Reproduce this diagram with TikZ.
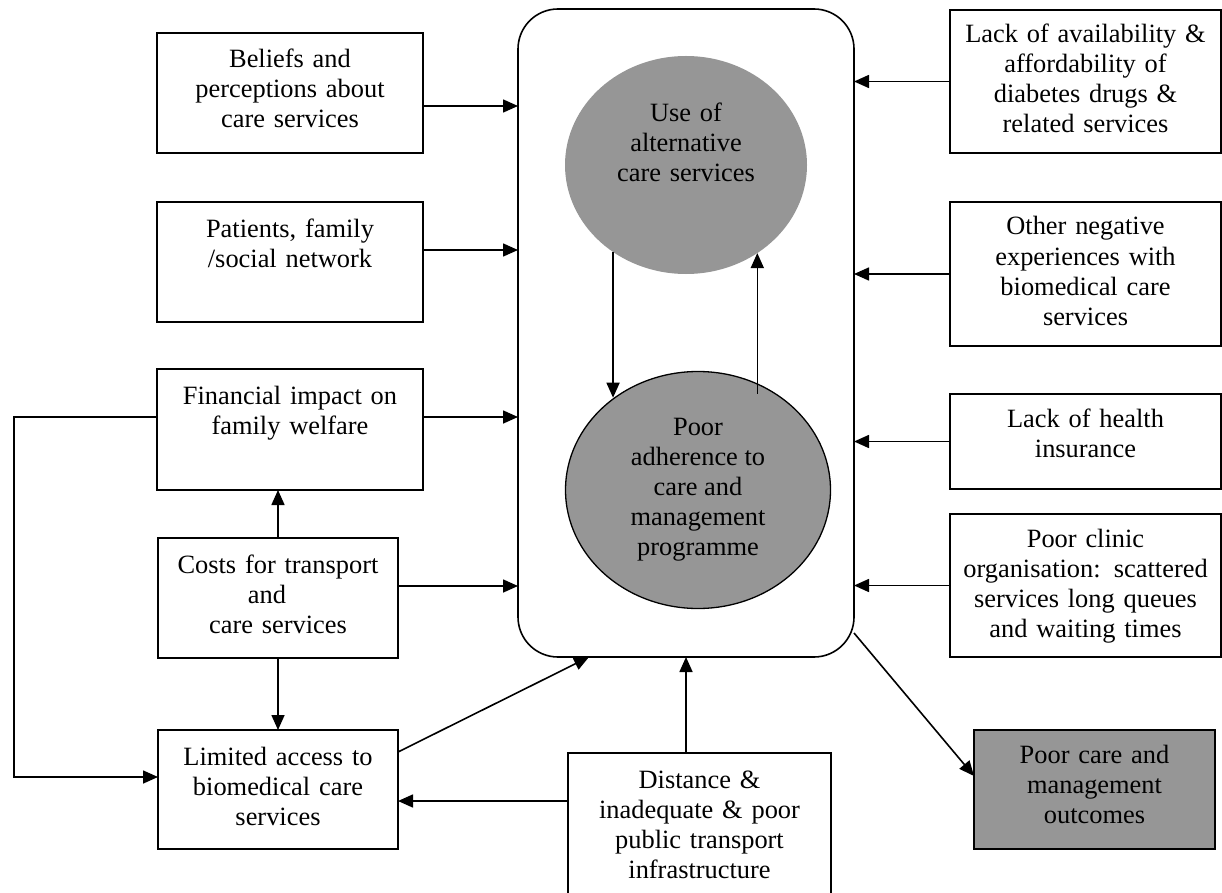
\documentclass[tikz,border=0pt]{standalone}
\usepackage{fontspec}
\setmainfont{Liberation Serif}
\usetikzlibrary{arrows.meta}
\usetikzlibrary{shapes.geometric}
\definecolor{fillgrey}{RGB}{150,150,150}

\begin{document}
\begin{tikzpicture}[x=1pt, y=-1pt, line width=1.6pt, >={Triangle[length=15pt,width=13pt]},
  factor/.style={draw, anchor=north west, inner sep=0pt, outer sep=0pt},
  lbl/.style={anchor=base, align=center, text width=#1, inner sep=0pt, font=\fontsize{26.4}{30}\selectfont},
  lbl/.default=262,
  blob/.style={ellipse, fill=fillgrey, inner sep=0pt, outer sep=0pt}]
\clip (0,0) rectangle (1222,893);

\node[draw, rounded corners=40pt, minimum width=336pt, minimum height=648pt, outer sep=0pt] (frame) at (686,333) {};
\node[blob, minimum width=242pt, minimum height=218pt] (use) at (686,165) {};
\node[lbl] (use-t) at ([yshift=-66]use.north) {Use of\\ alternative\\ care services};
\node[blob, draw, line width=1.3pt, minimum width=265pt, minimum height=237pt, align=center,
  font=\fontsize{26.4}{30}\selectfont] (adh) at (698,490)
  {Poor\\ adherence to\\ care and\\ management\\ programme};

\node[factor, minimum width=266pt, minimum height=120pt] (belief) at (157,33) {};
\node[factor, minimum width=266pt, minimum height=120pt] (family) at (157,202) {};
\node[factor, minimum width=266pt, minimum height=121pt] (finance) at (157,369) {};
\node[factor, minimum width=240pt, minimum height=120pt] (cost) at (158,538) {};
\node[factor, minimum width=240pt, minimum height=119pt] (limit) at (158,730) {};
\node[factor, minimum width=263pt, minimum height=150pt] (dist) at (568,753) {};
\node[factor, minimum width=271pt, minimum height=143pt] (avail) at (950,10) {};
\node[factor, minimum width=271pt, minimum height=144pt] (negexp) at (950,202) {};
\node[factor, minimum width=271pt, minimum height=95pt] (insur) at (950,394) {};
\node[factor, minimum width=271pt, minimum height=143pt] (clinic) at (950,514) {};
\node[factor, fill=fillgrey, minimum width=241pt, minimum height=119pt] (outcome) at (974,730) {};

\node[lbl] (belief-t) at ([yshift=-35]belief.north) {Beliefs and\\ perceptions about\\ care services};
\node[lbl] (family-t) at ([yshift=-35]family.north) {Patients, family\\ /social network};
\node[lbl] (finance-t) at ([yshift=-35]finance.north) {Financial impact on\\ family welfare};
\node[lbl=238] (cost-t) at ([yshift=-35]cost.north) {Costs for transport\\ and\rule{22pt}{0pt}\\ care services};
\node[lbl=238] (limit-t) at ([yshift=-35]limit.north) {Limited access to\\ biomedical care\\ services};
\node[lbl] (dist-t) at ([yshift=-35]dist.north) {Distance \&\\ inadequate \& poor\\ public transport\\ infrastructure};
\node[lbl=268] (avail-t) at ([yshift=-33]avail.north) {Lack of availability \&\\ affordability of\\ diabetes drugs \&\\ related services};
\node[lbl=268] (negexp-t) at ([yshift=-33]negexp.north) {Other negative\\ experiences with\\ biomedical care\\ services};
\node[lbl=268] (insur-t) at ([yshift=-33]insur.north) {Lack of health\\ insurance};
\node[lbl=268] (clinic-t) at ([yshift=-33]clinic.north) {Poor clinic\\ organisation: scattered\\ services long queues\\ and waiting times};
\node[lbl=238] (outcome-t) at ([yshift=-33]outcome.north) {Poor care and\\ management\\ outcomes};

\foreach \n/\s in {belief/-13,family/12,finance/12.5,cost/12}
  \draw[->] ([yshift=\s]\n.east) -- ([yshift=\s]\n.east -| frame.west);
\foreach \n in {avail,negexp,insur,clinic}
  \draw[->] (\n.west) -- (\n.west -| frame.east);

\draw[->] (use.230.6) -- (use.230.6 |- adh.132.5);
\draw[->] ([yshift=-9]adh.60.4 -| use.309.4) -- (use.309.4);

\draw[->] (cost.north) -- (cost.north |- finance.south);
\draw[->] (cost.south) -- (limit.north);
\draw[->] ([yshift=12.5]finance.west) -- ++(-143,0) |- ([yshift=12.5]limit.west);
\draw[->] ([yshift=37.5]limit.east) -- ([xshift=-97]frame.south);
\draw[->] ([yshift=-11.5]limit.east -| dist.west) -- ([yshift=-11.5]limit.east);
\draw[->] (dist.north -| frame.south) -- (frame.south);
\draw[->] ([yshift=-300]frame.east) -- ([yshift=13.5]outcome.west);
\end{tikzpicture}
\end{document}
